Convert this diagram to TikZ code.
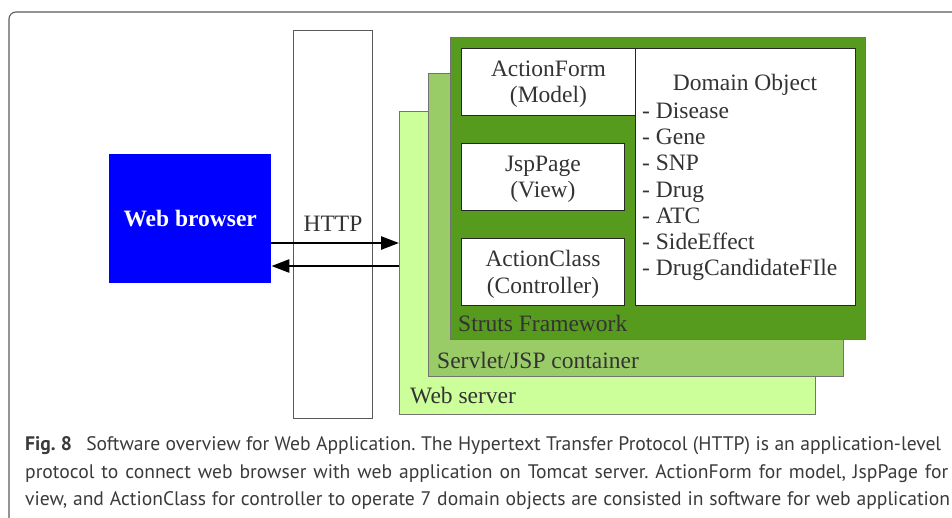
\documentclass[tikz,border=0pt]{standalone}
\usepackage{fontspec}
\setmainfont{Liberation Serif}
\newfontfamily\capfont{PT Sans}
\usetikzlibrary{arrows.meta}
\frenchspacing
\definecolor{strutsg}{HTML}{579B1E}
\definecolor{servg}{HTML}{99CC66}
\definecolor{webg}{HTML}{CCFF99}
\definecolor{txt}{HTML}{333333}
\definecolor{frame}{HTML}{5A5A5A}
\definecolor{capc}{HTML}{3A3A3A}
\tikzset{
  dfont/.style={font=\fontsize{23.5}{26.5}\selectfont},
  layer/.style={draw=black!55, line width=0.9pt, inner sep=0pt, anchor=north west},
  wbox/.style={draw=black!85, fill=white, line width=0.9pt, inner sep=0pt, anchor=north west},
  wtxt/.style={text=txt, inner sep=0pt, align=center, dfont, yshift=-2.5pt},
  lbl/.style={text=txt, inner sep=0pt, anchor=west, dfont},
  arr/.style={line width=2.6pt, -{Triangle[length=18pt,width=13pt]}},
  capline/.style={inner sep=0pt, anchor=base west, text=capc, font=\capfont\fontsize{19.6}{27}\selectfont}
}
\begin{document}
\begin{tikzpicture}[x=1pt,y=-1pt]
\useasboundingbox (0,0) rectangle (952,517);
\clip (0,0) rectangle (952,517);
% outer frame
\draw[frame, line width=1.1pt, rounded corners=7pt] (9,12) rectangle (1000,600);
% HTTP column
\node[layer, draw=black!65, fill=white, minimum width=79pt, minimum height=388pt] (http) at (293,30) {};
\node[text=txt, dfont, inner sep=0pt] (httpl) at (333,224) {HTTP};
% Web browser
\node[fill=blue, inner sep=0pt, minimum width=162pt, minimum height=129pt, anchor=north west] (browser) at (109,154) {};
\node[text=white, inner sep=0pt, font=\bfseries\fontsize{23.5}{26}\selectfont] (browserl) at (browser.center) {Web browser};
% layers
\node[layer, fill=webg, minimum width=416pt, minimum height=303pt] (websrv) at (399,111) {};
\node[layer, fill=servg, minimum width=415pt, minimum height=303pt] (servlet) at (428,73) {};
\node[layer, fill=strutsg, minimum width=415pt, minimum height=302pt] (struts) at (450,37) {};
\node[lbl] (websrvl) at (410,396) {Web server};
\node[lbl] (servletl) at (437,360) {Servlet/JSP container};
\node[lbl] (strutsl) at (458,323) {Struts Framework};
% inner boxes
\node[wbox, minimum width=174pt, minimum height=67pt] (form) at (461,48) {};
\node[wtxt] (forml) at (form.center) {ActionForm\\(Model)};
\node[wbox, minimum width=163pt, minimum height=67pt] (page) at (461,143) {};
\node[wtxt] (pagel) at (page.center) {JspPage\\(View)};
\node[wbox, minimum width=163pt, minimum height=67pt] (class) at (461,238) {};
\node[wtxt] (classl) at (class.center) {ActionClass\\(Controller)};
\node[wbox, minimum width=220pt, minimum height=257pt] (domain) at (635,48) {};
\node[text=txt, inner sep=0pt, dfont] (domt) at (745,85) {Domain Object};
\node[text=txt, inner sep=0pt, anchor=north west, align=left, font=\fontsize{23.5}{26.1}\selectfont] (doml) at (642,103)
  {- Disease\\- Gene\\- SNP\\- Drug\\- ATC\\- SideEffect\\- DrugCandidateFIle};
% arrows
\coordinate (r1) at (0,243);
\coordinate (r2) at (0,266);
\draw[arr] (browser.east |- r1) -- (websrv.west |- r1);
\draw[arr] (websrv.west |- r2) -- (browser.east |- r2);
% caption
\node[capline] (c1) at (25,450) {\makebox[916pt][s]{\textbf{Fig. 8}\hspace{0.45em} Software overview for Web Application. The Hypertext Transfer Protocol (HTTP) is an application-level}};
\node[capline] (c2) at (25,478) {\makebox[923pt][s]{protocol to connect web browser with web application on Tomcat server. ActionForm for model, JspPage for}};
\node[capline] (c3) at (25,505) {\makebox[925pt][s]{view, and ActionClass for controller to operate 7 domain objects are consisted in software for web application}};
\end{tikzpicture}
\end{document}
